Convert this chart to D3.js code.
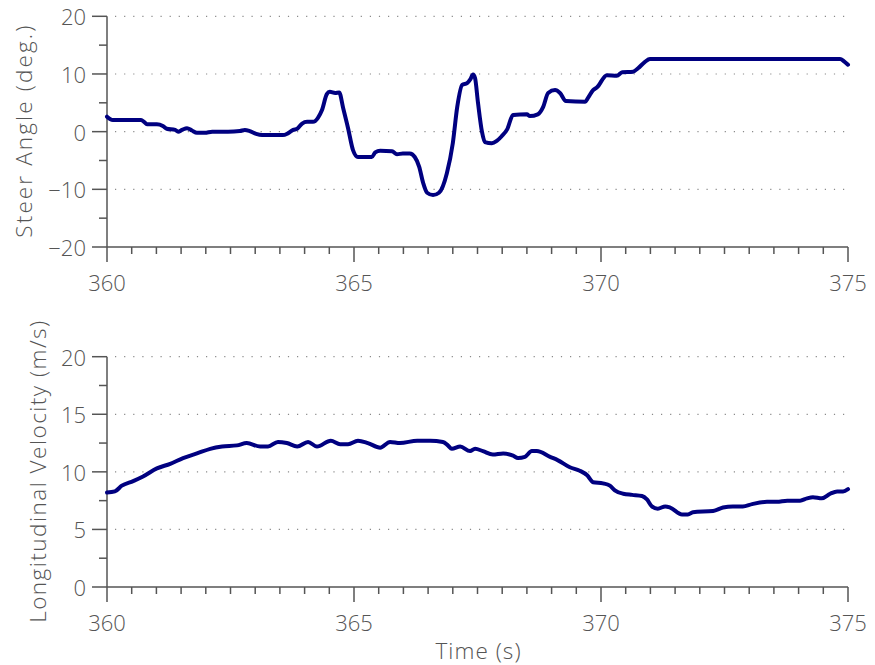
<!DOCTYPE html>
<html>
<head>
<meta charset="utf-8">
<script src="https://cdn.jsdelivr.net/npm/d3@7"></script>
<style>
  html, body { margin: 0; padding: 0; background: #fff; }
  svg { display: block; }
  text { font-family: "Open Sans", "Noto Sans", sans-serif; fill: #555; font-weight: 300; }
</style>
</head>
<body>
<svg id="chart" width="875" height="665"></svg>
<script>
// ---- data ----
const steerTime = [360.00,360.06,360.12,360.69,360.75,360.81,361.01,361.13,361.21,361.38,361.44,361.52,361.62,361.72,361.82,361.98,362.13,362.45,362.69,362.79,362.89,363.02,363.14,363.56,363.66,363.77,363.85,363.95,364.05,364.17,364.27,364.35,364.45,364.51,364.62,364.70,364.78,364.88,364.98,365.08,365.36,365.43,365.53,365.77,365.87,365.99,366.13,366.23,366.32,366.40,366.48,366.60,366.72,366.88,367.00,367.09,367.19,367.29,367.35,367.41,367.45,367.51,367.59,367.65,367.79,367.89,367.99,368.10,368.22,368.50,368.56,368.72,368.83,368.93,369.07,369.17,369.29,369.68,369.74,369.84,369.92,370.12,370.32,370.43,370.65,370.75,370.89,370.99,371.80,373.22,374.84,374.92,375.00];
const steerAngle = [2.6,2.2,2.0,2.0,1.7,1.3,1.3,1.0,0.5,0.3,0.0,0.3,0.6,0.2,-0.2,-0.2,0.0,0.0,0.1,0.3,0.1,-0.4,-0.6,-0.6,-0.3,0.3,0.5,1.4,1.7,1.7,2.4,3.7,6.5,6.9,6.7,6.8,4.1,0.6,-3.2,-4.4,-4.4,-3.6,-3.3,-3.4,-3.9,-3.8,-3.8,-4.4,-6.1,-8.9,-10.6,-11.0,-10.6,-7.2,-2.0,4.3,8.1,8.4,9.0,9.9,9.3,5.0,0.0,-1.8,-2.0,-1.6,-0.8,0.4,2.9,3.0,2.7,3.0,4.3,6.7,7.2,6.7,5.3,5.2,5.9,7.2,7.7,9.8,9.7,10.3,10.4,11.0,12.1,12.6,12.6,12.6,12.6,12.2,11.6];

const velTime = [360.00,360.16,360.30,360.53,360.73,361.01,361.28,361.54,361.82,362.09,362.33,362.63,362.83,363.10,363.26,363.46,363.64,363.85,364.07,364.25,364.53,364.72,364.88,365.08,365.28,365.53,365.73,365.93,366.28,366.54,366.80,366.90,366.98,367.15,367.35,367.45,367.61,367.81,368.02,368.22,368.32,368.46,368.60,368.70,368.97,369.13,369.37,369.57,369.72,369.84,370.04,370.18,370.28,370.45,370.63,370.83,370.93,371.03,371.15,371.30,371.40,371.64,371.76,371.86,372.27,372.47,372.67,372.87,373.06,373.36,373.56,373.77,374.03,374.17,374.29,374.47,374.64,374.78,374.90,375.00];
const velValue = [8.2,8.3,8.8,9.2,9.6,10.3,10.7,11.2,11.6,12.0,12.2,12.3,12.5,12.2,12.2,12.6,12.5,12.2,12.6,12.2,12.7,12.4,12.4,12.7,12.5,12.1,12.6,12.5,12.7,12.7,12.6,12.3,12.0,12.2,11.8,12.0,11.8,11.5,11.6,11.4,11.2,11.3,11.8,11.8,11.3,11.0,10.4,10.1,9.7,9.1,9.0,8.8,8.4,8.1,8.0,7.9,7.6,7.0,6.8,7.0,6.9,6.3,6.3,6.5,6.6,6.9,7.0,7.0,7.2,7.4,7.4,7.5,7.5,7.7,7.8,7.7,8.1,8.3,8.3,8.5];

const xTicks = [360, 365, 370, 375];
const steerTicks = [-20, -10, 0, 10, 20];
const velTicks = [0, 5, 10, 15, 20];
const steerLabel = "Steer Angle (deg.)";
const velLabel = "Longitudinal Velocity (m/s)";
const xLabel = "Time (s)";

// ---- drawing ----
const svg = d3.select("#chart");
const axisColor = "#555";
const lineColor = "#000080";
const tickFont = "22px";
const titleFont = "22.5px";
const x = d3.scaleLinear().domain([360, 375]).range([107, 848]);

function panel(top, bottom, yDomain, majorTicks, minorStep, times, values, ylabel, ylabelX, ylabelLen) {
  const y = d3.scaleLinear().domain(yDomain).range([bottom, top]);
  const g = svg.append("g");

  g.selectAll("line.grid").data(majorTicks.filter(v => v !== yDomain[0])).enter()
    .append("line")
    .attr("x1", x.range()[0] + 8).attr("x2", x.range()[1])
    .attr("y1", d => y(d)).attr("y2", d => y(d))
    .attr("stroke", "#8a8a8a").attr("stroke-width", 1.2)
    .attr("stroke-dasharray", "1.2,7.9");

  const minorY = d3.range(yDomain[0], yDomain[1] + 1e-9, minorStep).filter(v => !majorTicks.includes(v));
  g.selectAll("line.ymin").data(minorY).enter().append("line")
    .attr("x1", x.range()[0] - 8).attr("x2", x.range()[0])
    .attr("y1", d => y(d)).attr("y2", d => y(d))
    .attr("stroke", axisColor).attr("stroke-width", 1.5);
  g.selectAll("line.ymaj").data(majorTicks).enter().append("line")
    .attr("x1", x.range()[0] - 15).attr("x2", x.range()[0])
    .attr("y1", d => y(d)).attr("y2", d => y(d))
    .attr("stroke", axisColor).attr("stroke-width", 1.5);
  g.selectAll("text.ylab").data(majorTicks).enter().append("text")
    .attr("x", x.range()[0] - 21).attr("y", d => y(d))
    .attr("text-anchor", "end").attr("dominant-baseline", "central")
    .style("font-size", tickFont)
    .text(d => d < 0 ? "\u2212" + Math.abs(d) : d);

  const minorX = d3.range(360, 375.0001, 0.5).filter(v => !xTicks.includes(v));
  g.selectAll("line.xmin").data(minorX).enter().append("line")
    .attr("x1", d => x(d)).attr("x2", d => x(d))
    .attr("y1", bottom).attr("y2", bottom + 7)
    .attr("stroke", axisColor).attr("stroke-width", 1.5);
  g.selectAll("line.xmaj").data(xTicks).enter().append("line")
    .attr("x1", d => x(d)).attr("x2", d => x(d))
    .attr("y1", bottom).attr("y2", bottom + 15)
    .attr("stroke", axisColor).attr("stroke-width", 1.5);
  g.selectAll("text.xlab").data(xTicks).enter().append("text")
    .attr("x", d => x(d)).attr("y", bottom + 35)
    .attr("text-anchor", "middle").attr("dominant-baseline", "central")
    .style("font-size", tickFont)
    .text(d => d);

  g.append("line").attr("x1", x.range()[0]).attr("x2", x.range()[0])
    .attr("y1", top).attr("y2", bottom).attr("stroke", axisColor).attr("stroke-width", 1.5);
  g.append("line").attr("x1", x.range()[0]).attr("x2", x.range()[1])
    .attr("y1", bottom).attr("y2", bottom).attr("stroke", axisColor).attr("stroke-width", 1.5);

  g.append("text")
    .attr("transform", `translate(${ylabelX},${(top + bottom) / 2}) rotate(-90)`)
    .attr("text-anchor", "middle").attr("dominant-baseline", "central")
    .attr("textLength", ylabelLen).attr("lengthAdjust", "spacing")
    .style("font-size", titleFont)
    .text(ylabel);

  const pts = times.map((t, i) => [t, values[i]]);
  g.append("path").datum(pts)
    .attr("fill", "none").attr("stroke", lineColor).attr("stroke-width", 4)
    .attr("stroke-linejoin", "round").attr("stroke-linecap", "round")
    .attr("d", d3.line().x(d => x(d[0])).y(d => y(d[1])).curve(d3.curveMonotoneX));
  return y;
}

panel(16.3, 247, [-20, 20], steerTicks, 5, steerTime, steerAngle, steerLabel, 23, 212);
panel(356.7, 587, [0, 20], velTicks, 2.5, velTime, velValue, velLabel, 37, 302);

svg.append("text")
  .attr("x", 478).attr("y", 650)
  .attr("text-anchor", "middle").attr("dominant-baseline", "central")
  .attr("textLength", 85).attr("lengthAdjust", "spacing")
  .style("font-size", titleFont)
  .text(xLabel);
</script>
</body>
</html>
